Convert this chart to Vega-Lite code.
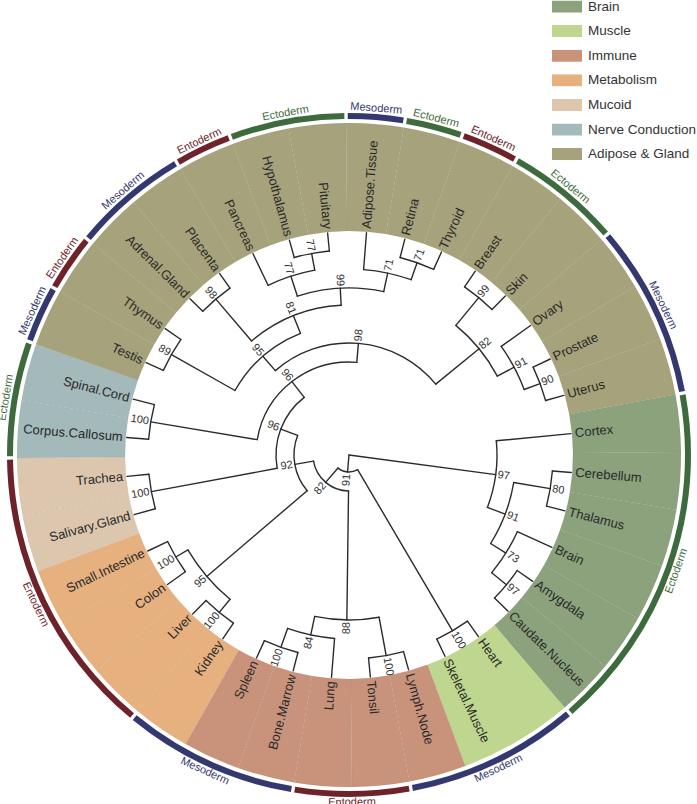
{
  "$schema": "https://vega.github.io/schema/vega-lite/v6.json",
  "width": 696,
  "height": 698,
  "autosize": {"type": "none"},
  "padding": {"left": 1, "top": 106, "right": 0, "bottom": 0},
  "background": "white",
  "config": {"view": {"stroke": null}, "font": "Liberation Sans"},
  "datasets": {
    "leaves": [
      {"tissue": "Cortex", "a": 84.5, "a1": 79.5, "a2": 89.5, "group": "Brain"},
      {"tissue": "Cerebellum", "a": 94.5, "a1": 89.5, "a2": 99.5, "group": "Brain"},
      {"tissue": "Thalamus", "a": 104.5, "a1": 99.5, "a2": 109.5, "group": "Brain"},
      {"tissue": "Brain", "a": 114.5, "a1": 109.5, "a2": 119.5, "group": "Brain"},
      {"tissue": "Amygdala", "a": 124.5, "a1": 119.5, "a2": 129.5, "group": "Brain"},
      {"tissue": "Caudate.Nucleus", "a": 134.5, "a1": 129.5, "a2": 139.5, "group": "Brain"},
      {"tissue": "Heart", "a": 144.5, "a1": 139.5, "a2": 149.5, "group": "Muscle"},
      {"tissue": "Skeletal.Muscle", "a": 154.5, "a1": 149.5, "a2": 159.5, "group": "Muscle"},
      {"tissue": "Lymph.Node", "a": 164.5, "a1": 159.5, "a2": 169.5, "group": "Immune"},
      {"tissue": "Tonsil", "a": 174.5, "a1": 169.5, "a2": 179.5, "group": "Immune"},
      {"tissue": "Lung", "a": 184.5, "a1": 179.5, "a2": 189.5, "group": "Immune"},
      {"tissue": "Bone.Marrow", "a": 194.5, "a1": 189.5, "a2": 199.5, "group": "Immune"},
      {"tissue": "Spleen", "a": 204.5, "a1": 199.5, "a2": 209.5, "group": "Immune"},
      {"tissue": "Kidney", "a": 214.5, "a1": 209.5, "a2": 219.5, "group": "Metabolism"},
      {"tissue": "Liver", "a": 224.5, "a1": 219.5, "a2": 229.5, "group": "Metabolism"},
      {"tissue": "Colon", "a": 234.5, "a1": 229.5, "a2": 239.5, "group": "Metabolism"},
      {"tissue": "Small.Intestine", "a": 244.5, "a1": 239.5, "a2": 249.5, "group": "Metabolism"},
      {"tissue": "Salivary.Gland", "a": 254.5, "a1": 249.5, "a2": 259.5, "group": "Mucoid"},
      {"tissue": "Trachea", "a": 264.5, "a1": 259.5, "a2": 269.5, "group": "Mucoid"},
      {"tissue": "Corpus.Callosum", "a": 274.5, "a1": 269.5, "a2": 279.5, "group": "Nerve Conduction"},
      {"tissue": "Spinal.Cord", "a": 284.5, "a1": 279.5, "a2": 289.5, "group": "Nerve Conduction"},
      {"tissue": "Testis", "a": 294.5, "a1": 289.5, "a2": 299.5, "group": "Adipose & Gland"},
      {"tissue": "Thymus", "a": 304.5, "a1": 299.5, "a2": 309.5, "group": "Adipose & Gland"},
      {"tissue": "Adrenal.Gland", "a": 314.5, "a1": 309.5, "a2": 319.5, "group": "Adipose & Gland"},
      {"tissue": "Placenta", "a": 324.5, "a1": 319.5, "a2": 329.5, "group": "Adipose & Gland"},
      {"tissue": "Pancreas", "a": 334.5, "a1": 329.5, "a2": 339.5, "group": "Adipose & Gland"},
      {"tissue": "Hypothalamus", "a": 344.5, "a1": 339.5, "a2": 349.5, "group": "Adipose & Gland"},
      {"tissue": "Pituitary", "a": 354.5, "a1": 349.5, "a2": 359.5, "group": "Adipose & Gland"},
      {"tissue": "Adipose.Tissue", "a": 4.5, "a1": 359.5, "a2": 369.5, "group": "Adipose & Gland"},
      {"tissue": "Retina", "a": 14.5, "a1": 9.5, "a2": 19.5, "group": "Adipose & Gland"},
      {"tissue": "Thyroid", "a": 24.5, "a1": 19.5, "a2": 29.5, "group": "Adipose & Gland"},
      {"tissue": "Breast", "a": 34.5, "a1": 29.5, "a2": 39.5, "group": "Adipose & Gland"},
      {"tissue": "Skin", "a": 44.5, "a1": 39.5, "a2": 49.5, "group": "Adipose & Gland"},
      {"tissue": "Ovary", "a": 54.5, "a1": 49.5, "a2": 59.5, "group": "Adipose & Gland"},
      {"tissue": "Prostate", "a": 64.5, "a1": 59.5, "a2": 69.5, "group": "Adipose & Gland"},
      {"tissue": "Uterus", "a": 74.5, "a1": 69.5, "a2": 79.5, "group": "Adipose & Gland"}
    ],
    "germ": [
      {"layer": "Ectoderm", "a1": 79.5, "a2": 139.5, "am": 109.5},
      {"layer": "Mesoderm", "a1": 139.5, "a2": 169.5, "am": 154.5},
      {"layer": "Entoderm", "a1": 169.5, "a2": 189.5, "am": 179.5},
      {"layer": "Mesoderm", "a1": 189.5, "a2": 219.5, "am": 204.5},
      {"layer": "Entoderm", "a1": 219.5, "a2": 269.5, "am": 244.5},
      {"layer": "Ectoderm", "a1": 269.5, "a2": 289.5, "am": 279.5},
      {"layer": "Mesoderm", "a1": 289.5, "a2": 299.5, "am": 294.5},
      {"layer": "Entoderm", "a1": 299.5, "a2": 309.5, "am": 304.5},
      {"layer": "Mesoderm", "a1": 309.5, "a2": 329.5, "am": 319.5},
      {"layer": "Entoderm", "a1": 329.5, "a2": 339.5, "am": 334.5},
      {"layer": "Ectoderm", "a1": 339.5, "a2": 359.5, "am": 349.5},
      {"layer": "Mesoderm", "a1": 359.5, "a2": 369.5, "am": 4.5},
      {"layer": "Ectoderm", "a1": 9.5, "a2": 19.5, "am": 14.5},
      {"layer": "Entoderm", "a1": 19.5, "a2": 29.5, "am": 24.5},
      {"layer": "Ectoderm", "a1": 29.5, "a2": 49.5, "am": 39.5},
      {"layer": "Mesoderm", "a1": 49.5, "a2": 79.5, "am": 64.5}
    ],
    "edges": [
      {"a1": 84.5, "a2": 84.5, "r1": 148, "r2": 223},
      {"a1": 94.5, "a2": 94.5, "r1": 204, "r2": 223},
      {"a1": 104.5, "a2": 104.5, "r1": 204, "r2": 223},
      {"a1": 114.5, "a2": 114.5, "r1": 185, "r2": 223},
      {"a1": 124.5, "a2": 124.5, "r1": 204, "r2": 223},
      {"a1": 134.5, "a2": 134.5, "r1": 204, "r2": 223},
      {"a1": 99.5, "a2": 99.5, "r1": 167, "r2": 204},
      {"a1": 129.5, "a2": 129.5, "r1": 185, "r2": 204},
      {"a1": 122, "a2": 122, "r1": 167, "r2": 185},
      {"a1": 110.75, "a2": 110.75, "r1": 148, "r2": 167},
      {"a1": 97.625, "a2": 97.625, "r1": 0, "r2": 148},
      {"a1": 144.5, "a2": 144.5, "r1": 204, "r2": 223},
      {"a1": 154.5, "a2": 154.5, "r1": 204, "r2": 223},
      {"a1": 149.5, "a2": 149.5, "r1": 17, "r2": 204},
      {"a1": 164.5, "a2": 164.5, "r1": 204, "r2": 223},
      {"a1": 174.5, "a2": 174.5, "r1": 204, "r2": 223},
      {"a1": 184.5, "a2": 184.5, "r1": 184, "r2": 223},
      {"a1": 194.5, "a2": 194.5, "r1": 204, "r2": 223},
      {"a1": 204.5, "a2": 204.5, "r1": 204, "r2": 223},
      {"a1": 169.5, "a2": 169.5, "r1": 165, "r2": 204},
      {"a1": 199.5, "a2": 199.5, "r1": 184, "r2": 204},
      {"a1": 192, "a2": 192, "r1": 165, "r2": 184},
      {"a1": 180.75, "a2": 180.75, "r1": 36, "r2": 165},
      {"a1": 214.5, "a2": 214.5, "r1": 204, "r2": 223},
      {"a1": 224.5, "a2": 224.5, "r1": 204, "r2": 223},
      {"a1": 234.5, "a2": 234.5, "r1": 201, "r2": 223},
      {"a1": 244.5, "a2": 244.5, "r1": 201, "r2": 223},
      {"a1": 219.5, "a2": 219.5, "r1": 187, "r2": 204},
      {"a1": 239.5, "a2": 239.5, "r1": 187, "r2": 201},
      {"a1": 229.5, "a2": 229.5, "r1": 55, "r2": 187},
      {"a1": 254.5, "a2": 254.5, "r1": 201, "r2": 223},
      {"a1": 264.5, "a2": 264.5, "r1": 201, "r2": 223},
      {"a1": 259.5, "a2": 259.5, "r1": 73, "r2": 201},
      {"a1": 274.5, "a2": 274.5, "r1": 201, "r2": 223},
      {"a1": 284.5, "a2": 284.5, "r1": 201, "r2": 223},
      {"a1": 279.5, "a2": 279.5, "r1": 93, "r2": 201},
      {"a1": 294.5, "a2": 294.5, "r1": 204, "r2": 223},
      {"a1": 304.5, "a2": 304.5, "r1": 204, "r2": 223},
      {"a1": 299.5, "a2": 299.5, "r1": 131, "r2": 204},
      {"a1": 314.5, "a2": 314.5, "r1": 205, "r2": 223},
      {"a1": 324.5, "a2": 324.5, "r1": 205, "r2": 223},
      {"a1": 319.5, "a2": 319.5, "r1": 150, "r2": 205},
      {"a1": 334.5, "a2": 334.5, "r1": 188, "r2": 223},
      {"a1": 344.5, "a2": 344.5, "r1": 205, "r2": 223},
      {"a1": 354.5, "a2": 354.5, "r1": 205, "r2": 223},
      {"a1": 349.5, "a2": 349.5, "r1": 188, "r2": 205},
      {"a1": 342, "a2": 342, "r1": 167, "r2": 188},
      {"a1": 4.5, "a2": 4.5, "r1": 186, "r2": 223},
      {"a1": 14.5, "a2": 14.5, "r1": 204, "r2": 223},
      {"a1": 24.5, "a2": 24.5, "r1": 204, "r2": 223},
      {"a1": 19.5, "a2": 19.5, "r1": 186, "r2": 204},
      {"a1": 12, "a2": 12, "r1": 167, "r2": 186},
      {"a1": 357, "a2": 357, "r1": 150, "r2": 167},
      {"a1": 338.25, "a2": 338.25, "r1": 131, "r2": 150},
      {"a1": 318.875, "a2": 318.875, "r1": 112, "r2": 131},
      {"a1": 34.5, "a2": 34.5, "r1": 204, "r2": 223},
      {"a1": 44.5, "a2": 44.5, "r1": 204, "r2": 223},
      {"a1": 39.5, "a2": 39.5, "r1": 168, "r2": 204},
      {"a1": 54.5, "a2": 54.5, "r1": 187, "r2": 223},
      {"a1": 64.5, "a2": 64.5, "r1": 204, "r2": 223},
      {"a1": 74.5, "a2": 74.5, "r1": 204, "r2": 223},
      {"a1": 69.5, "a2": 69.5, "r1": 187, "r2": 204},
      {"a1": 62, "a2": 62, "r1": 168, "r2": 187},
      {"a1": 50.75, "a2": 50.75, "r1": 112, "r2": 168},
      {"a1": 4.81, "a2": 4.81, "r1": 93, "r2": 112},
      {"a1": 322.16, "a2": 322.16, "r1": 73, "r2": 93},
      {"a1": 290.83, "a2": 290.83, "r1": 55, "r2": 73},
      {"a1": 260.16, "a2": 260.16, "r1": 36, "r2": 55},
      {"a1": 220.46, "a2": 220.46, "r1": 17, "r2": 36},
      {"a1": 184.98, "a2": 184.98, "r1": 0, "r2": 17},
      {"a1": 94.5, "a2": 104.5, "r1": 204, "r2": 204},
      {"a1": 124.5, "a2": 134.5, "r1": 204, "r2": 204},
      {"a1": 114.5, "a2": 129.5, "r1": 185, "r2": 185},
      {"a1": 99.5, "a2": 122, "r1": 167, "r2": 167},
      {"a1": 84.5, "a2": 110.75, "r1": 148, "r2": 148},
      {"a1": 144.5, "a2": 154.5, "r1": 204, "r2": 204},
      {"a1": 164.5, "a2": 174.5, "r1": 204, "r2": 204},
      {"a1": 194.5, "a2": 204.5, "r1": 204, "r2": 204},
      {"a1": 184.5, "a2": 199.5, "r1": 184, "r2": 184},
      {"a1": 169.5, "a2": 192, "r1": 165, "r2": 165},
      {"a1": 214.5, "a2": 224.5, "r1": 204, "r2": 204},
      {"a1": 234.5, "a2": 244.5, "r1": 201, "r2": 201},
      {"a1": 219.5, "a2": 239.5, "r1": 187, "r2": 187},
      {"a1": 254.5, "a2": 264.5, "r1": 201, "r2": 201},
      {"a1": 274.5, "a2": 284.5, "r1": 201, "r2": 201},
      {"a1": 294.5, "a2": 304.5, "r1": 204, "r2": 204},
      {"a1": 314.5, "a2": 324.5, "r1": 205, "r2": 205},
      {"a1": 344.5, "a2": 354.5, "r1": 205, "r2": 205},
      {"a1": 334.5, "a2": 349.5, "r1": 188, "r2": 188},
      {"a1": 14.5, "a2": 24.5, "r1": 204, "r2": 204},
      {"a1": 4.5, "a2": 19.5, "r1": 186, "r2": 186},
      {"a1": 342, "a2": 372, "r1": 167, "r2": 167},
      {"a1": 319.5, "a2": 357, "r1": 150, "r2": 150},
      {"a1": 299.5, "a2": 338.25, "r1": 131, "r2": 131},
      {"a1": 34.5, "a2": 44.5, "r1": 204, "r2": 204},
      {"a1": 64.5, "a2": 74.5, "r1": 204, "r2": 204},
      {"a1": 54.5, "a2": 69.5, "r1": 187, "r2": 187},
      {"a1": 39.5, "a2": 62, "r1": 168, "r2": 168},
      {"a1": 318.875, "a2": 410.75, "r1": 112, "r2": 112},
      {"a1": 279.5, "a2": 364.81, "r1": 93, "r2": 93},
      {"a1": 259.5, "a2": 322.16, "r1": 73, "r2": 73},
      {"a1": 229.5, "a2": 290.83, "r1": 55, "r2": 55},
      {"a1": 180.75, "a2": 260.16, "r1": 36, "r2": 36},
      {"a1": 149.5, "a2": 220.46, "r1": 17, "r2": 17}
    ],
    "support": [
      {"v": "80", "a": 99.5, "r": 204},
      {"v": "97", "a": 129.5, "r": 204},
      {"v": "73", "a": 122, "r": 185},
      {"v": "91", "a": 110.75, "r": 167},
      {"v": "97", "a": 97.625, "r": 148},
      {"v": "100", "a": 149.5, "r": 204},
      {"v": "100", "a": 169.5, "r": 204},
      {"v": "100", "a": 199.5, "r": 204},
      {"v": "84", "a": 192, "r": 184},
      {"v": "88", "a": 180.75, "r": 165},
      {"v": "100", "a": 219.5, "r": 204},
      {"v": "100", "a": 239.5, "r": 201},
      {"v": "95", "a": 229.5, "r": 187},
      {"v": "100", "a": 259.5, "r": 201},
      {"v": "100", "a": 279.5, "r": 201},
      {"v": "89", "a": 299.5, "r": 204},
      {"v": "98", "a": 319.5, "r": 205},
      {"v": "77", "a": 349.5, "r": 205},
      {"v": "77", "a": 342, "r": 188},
      {"v": "71", "a": 19.5, "r": 204},
      {"v": "71", "a": 12, "r": 186},
      {"v": "99", "a": 357, "r": 167},
      {"v": "81", "a": 338.25, "r": 150},
      {"v": "95", "a": 318.875, "r": 131},
      {"v": "99", "a": 39.5, "r": 204},
      {"v": "90", "a": 69.5, "r": 204},
      {"v": "91", "a": 62, "r": 187},
      {"v": "82", "a": 50.75, "r": 168},
      {"v": "98", "a": 4.81, "r": 112},
      {"v": "96", "a": 322.16, "r": 93},
      {"v": "96", "a": 290.83, "r": 73},
      {"v": "92", "a": 260.16, "r": 55},
      {"v": "82", "a": 220.46, "r": 36},
      {"v": "91", "a": 184.98, "r": 17}
    ]
  },
  "layer": [
    {
      "data": {"name": "leaves"},
      "mark": {"type": "arc", "stroke": "#000000", "strokeOpacity": 0.035, "strokeWidth": 0.8},
      "encoding": {
        "theta": {"field": "a1", "type": "quantitative", "stack": null, "scale": {"type": "linear", "domain": [0, 360], "range": [0, 6.283185307179586], "zero": false, "nice": false}},
        "theta2": {"field": "a2"},
        "radius": {"datum": 224, "type": "quantitative", "scale": {"type": "linear", "domain": [0, 350], "range": [0, 350], "zero": false, "nice": false}},
        "radius2": {"datum": 332},
        "fill": {
          "field": "group", "type": "nominal",
          "scale": {"domain": ["Brain", "Muscle", "Immune", "Metabolism", "Mucoid", "Nerve Conduction", "Adipose & Gland"], "range": ["#8ba27d", "#bed68d", "#c8937a", "#e7b07f", "#dcc7ae", "#a3b9ba", "#a6a27b"]},
          "legend": {"orient": "none", "legendX": 551, "legendY": -105.5, "direction": "vertical", "title": null, "symbolType": "M-1,-0.4H1V0.4H-1Z", "symbolSize": 900, "clipHeight": 12, "rowPadding": 10.6, "labelFontSize": 13.5, "labelFont": "Liberation Sans", "labelColor": "#333333", "labelOffset": 6, "padding": 0, "symbolStrokeWidth": 0, "symbolOpacity": 1}
        }
      }
    },
    {
      "data": {"name": "germ"},
      "mark": {"type": "arc", "padAngle": 0.007},
      "encoding": {
        "theta": {"field": "a1", "type": "quantitative", "stack": null, "scale": {"type": "linear", "domain": [0, 360], "range": [0, 6.283185307179586], "zero": false, "nice": false}},
        "theta2": {"field": "a2"},
        "radius": {"datum": 336, "type": "quantitative", "scale": {"type": "linear", "domain": [0, 350], "range": [0, 350], "zero": false, "nice": false}},
        "radius2": {"datum": 342},
        "color": {"field": "layer", "type": "nominal", "scale": {"domain": ["Ectoderm", "Mesoderm", "Entoderm"], "range": ["#3e6b3d", "#343870", "#6e2229"]}, "legend": null}
      }
    },
    {
      "data": {"name": "germ"},
      "transform": [{"filter": "datum.am < 90 || datum.am > 270"}],
      "mark": {"type": "text", "fontSize": 11, "align": "center", "baseline": "middle"},
      "encoding": {
        "theta": {"field": "am", "type": "quantitative", "stack": null, "scale": {"type": "linear", "domain": [0, 360], "range": [0, 6.283185307179586], "zero": false, "nice": false}},
        "radius": {"datum": 347.5, "type": "quantitative", "scale": {"type": "linear", "domain": [0, 350], "range": [0, 350], "zero": false, "nice": false}},
        "text": {"field": "layer"},
        "color": {"field": "layer", "type": "nominal", "scale": {"domain": ["Ectoderm", "Mesoderm", "Entoderm"], "range": ["#3e6b3d", "#343870", "#6e2229"]}, "legend": null},
        "angle": {"field": "am", "type": "quantitative", "scale": {"domain": [0, 360], "range": [0, 360]}}
      }
    },
    {
      "data": {"name": "germ"},
      "transform": [{"filter": "datum.am >= 90 && datum.am <= 270"}],
      "mark": {"type": "text", "fontSize": 11, "align": "center", "baseline": "middle"},
      "encoding": {
        "theta": {"field": "am", "type": "quantitative", "stack": null, "scale": {"type": "linear", "domain": [0, 360], "range": [0, 6.283185307179586], "zero": false, "nice": false}},
        "radius": {"datum": 347.5, "type": "quantitative", "scale": {"type": "linear", "domain": [0, 350], "range": [0, 350], "zero": false, "nice": false}},
        "text": {"field": "layer"},
        "color": {"field": "layer", "type": "nominal", "scale": {"domain": ["Ectoderm", "Mesoderm", "Entoderm"], "range": ["#3e6b3d", "#343870", "#6e2229"]}, "legend": null},
        "angle": {"field": "am", "type": "quantitative", "scale": {"domain": [0, 360], "range": [-180, 180]}}
      }
    },
    {
      "data": {"name": "edges"},
      "mark": {"type": "arc", "filled": false, "stroke": "#2b2b2b", "strokeWidth": 1.4, "strokeJoin": "round"},
      "encoding": {
        "theta": {"field": "a1", "type": "quantitative", "stack": null, "scale": {"type": "linear", "domain": [0, 360], "range": [0, 6.283185307179586], "zero": false, "nice": false}},
        "theta2": {"field": "a2"},
        "radius": {"field": "r1", "type": "quantitative", "stack": null, "scale": {"type": "linear", "domain": [0, 350], "range": [0, 350], "zero": false, "nice": false}},
        "radius2": {"field": "r2"}
      }
    },
    {
      "data": {"name": "leaves"},
      "transform": [{"filter": "datum.a < 180"}],
      "mark": {"type": "text", "fontSize": 13, "align": "left", "baseline": "middle", "fill": "#2a2a2a"},
      "encoding": {
        "theta": {"field": "a", "type": "quantitative", "stack": null, "scale": {"type": "linear", "domain": [0, 360], "range": [0, 6.283185307179586], "zero": false, "nice": false}},
        "radius": {"datum": 227, "type": "quantitative", "scale": {"type": "linear", "domain": [0, 350], "range": [0, 350], "zero": false, "nice": false}},
        "text": {"field": "tissue"},
        "angle": {"field": "a", "type": "quantitative", "scale": {"domain": [0, 360], "range": [-90, 270]}}
      }
    },
    {
      "data": {"name": "leaves"},
      "transform": [{"filter": "datum.a >= 180"}],
      "mark": {"type": "text", "fontSize": 13, "align": "right", "baseline": "middle", "fill": "#2a2a2a"},
      "encoding": {
        "theta": {"field": "a", "type": "quantitative", "stack": null, "scale": {"type": "linear", "domain": [0, 360], "range": [0, 6.283185307179586], "zero": false, "nice": false}},
        "radius": {"datum": 227, "type": "quantitative", "scale": {"type": "linear", "domain": [0, 350], "range": [0, 350], "zero": false, "nice": false}},
        "text": {"field": "tissue"},
        "angle": {"field": "a", "type": "quantitative", "scale": {"domain": [0, 360], "range": [-270, 90]}}
      }
    },
    {
      "data": {"name": "support"},
      "transform": [{"filter": "datum.a < 180"}],
      "mark": {"type": "text", "fontSize": 11, "align": "left", "baseline": "middle", "fill": "#333333", "radiusOffset": 2},
      "encoding": {
        "theta": {"field": "a", "type": "quantitative", "stack": null, "scale": {"type": "linear", "domain": [0, 360], "range": [0, 6.283185307179586], "zero": false, "nice": false}},
        "radius": {"field": "r", "type": "quantitative", "stack": null, "scale": {"type": "linear", "domain": [0, 350], "range": [0, 350], "zero": false, "nice": false}},
        "text": {"field": "v"},
        "angle": {"field": "a", "type": "quantitative", "scale": {"domain": [0, 360], "range": [-90, 270]}}
      }
    },
    {
      "data": {"name": "support"},
      "transform": [{"filter": "datum.a >= 180"}],
      "mark": {"type": "text", "fontSize": 11, "align": "right", "baseline": "middle", "fill": "#333333", "radiusOffset": 2},
      "encoding": {
        "theta": {"field": "a", "type": "quantitative", "stack": null, "scale": {"type": "linear", "domain": [0, 360], "range": [0, 6.283185307179586], "zero": false, "nice": false}},
        "radius": {"field": "r", "type": "quantitative", "stack": null, "scale": {"type": "linear", "domain": [0, 350], "range": [0, 350], "zero": false, "nice": false}},
        "text": {"field": "v"},
        "angle": {"field": "a", "type": "quantitative", "scale": {"domain": [0, 360], "range": [-270, 90]}}
      }
    }
  ],
  "resolve": {"scale": {"angle": "independent"}}
}
